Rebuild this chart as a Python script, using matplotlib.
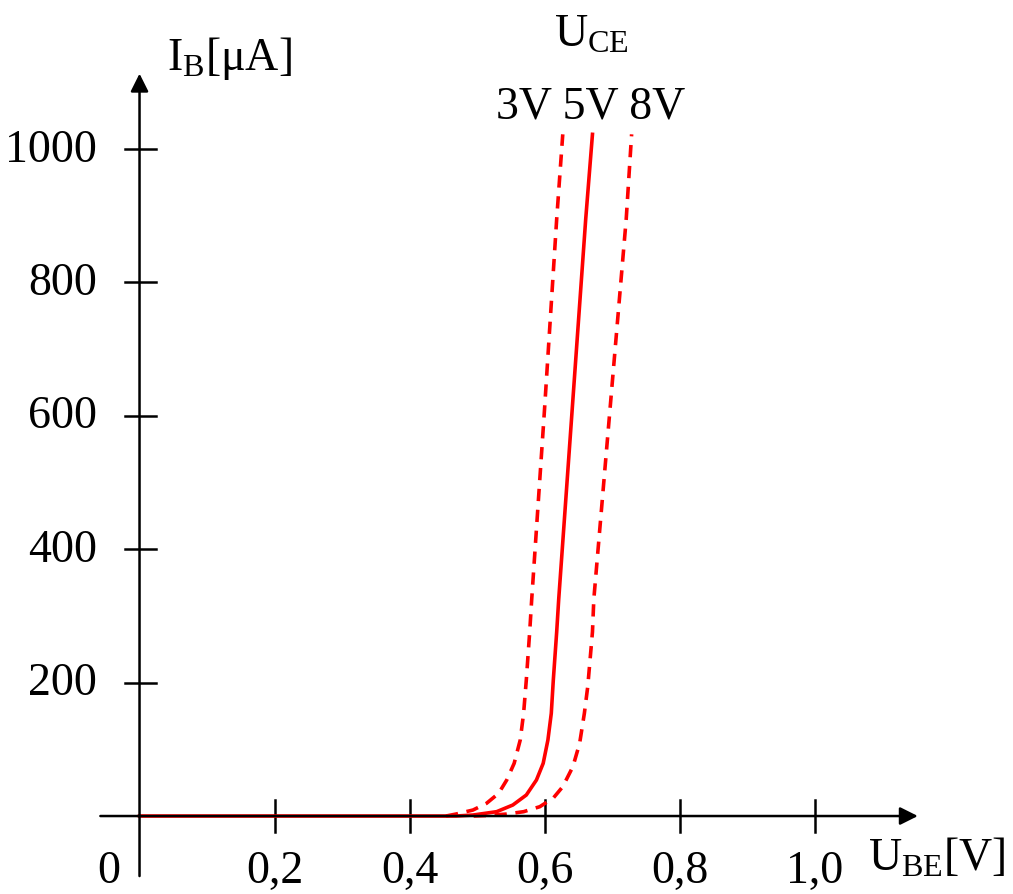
import matplotlib
matplotlib.use("Agg")
import matplotlib.pyplot as plt

plt.rcParams['font.family'] = ['Liberation Serif', 'DejaVu Serif']
plt.rcParams['mathtext.fontset'] = 'custom'
plt.rcParams['mathtext.rm'] = 'Liberation Serif'
plt.rcParams['mathtext.it'] = 'Liberation Serif:italic'

# input characteristic I_B(U_BE) for three U_CE values
ube_3v = [0.454, 0.469, 0.494, 0.514, 0.532, 0.544, 0.555, 0.564, 0.569, 0.573,
          0.578, 0.581, 0.600, 0.618, 0.627]
ib_3v = [0, 3, 9, 19, 34, 54, 79, 114, 154, 204, 276, 325, 610, 895, 1022]

ube_5v = [0.0, 0.469, 0.494, 0.529, 0.553, 0.573, 0.588, 0.598, 0.605, 0.610,
          0.613, 0.618, 0.621, 0.641, 0.661, 0.671]
ib_5v = [0, 0, 1.5, 6.5, 16.5, 31.5, 54, 79, 114, 154, 204, 276, 325, 610, 895, 1022]

ube_8v = [0.495, 0.519, 0.544, 0.569, 0.593, 0.613, 0.627, 0.642, 0.652, 0.659,
          0.664, 0.671, 0.673, 0.697, 0.721, 0.729]
ib_8v = [0, 1, 3, 6.5, 14, 27, 44, 74, 109, 154, 194, 276, 325, 610, 895, 1022]

x_ticks = [0.2, 0.4, 0.6, 0.8, 1.0]
x_tick_labels = ["0,2", "0,4", "0,6", "0,8", "1,0"]
y_ticks = [200, 400, 600, 800, 1000]
y_tick_labels = ["200", "400", "600", "800", "1000"]

fig = plt.figure(figsize=(10.13, 8.94), dpi=100)
ax = fig.add_axes([0, 0, 1, 1])
ax.set_xlim(-0.2067, 1.294)
ax.set_ylim(-116.9, 1223.4)
ax.axis("off")

red = "#ff0000"
fs = 33

# axes with arrows
ax.annotate("", xy=(1.153, 0), xytext=(-0.058, 0),
            arrowprops=dict(arrowstyle="-|>,head_length=0.6,head_width=0.3",
                            lw=1.8, color="black", mutation_scale=18,
                            shrinkA=0, shrinkB=0))
ax.annotate("", xy=(0, 1113), xytext=(0, -90),
            arrowprops=dict(arrowstyle="-|>,head_length=0.6,head_width=0.3",
                            lw=1.8, color="black", mutation_scale=18,
                            shrinkA=0, shrinkB=0))

# ticks crossing the axes
for xt in x_ticks:
    ax.plot([xt, xt], [-24, 24], color="black", lw=1.8)
for yt in y_ticks:
    ax.plot([-0.021, 0.024], [yt, yt], color="black", lw=1.8)

# tick labels
for xt, lab in zip(x_ticks, x_tick_labels):
    ax.text(xt, -101, lab, ha="center", va="baseline", fontsize=fs)
ax.text(-0.045, -100, "0", ha="center", va="baseline", fontsize=fs)
for yt, lab in zip(y_ticks, y_tick_labels):
    ax.text(-0.063, yt - 19, lab, ha="right", va="baseline", fontsize=fs)

# curves
ax.plot(ube_3v, ib_3v, color=red, lw=2.6, dashes=(3.4, 2.4), solid_capstyle="butt")
ax.plot(ube_5v, ib_5v, color=red, lw=2.6)
ax.plot(ube_8v, ib_8v, color=red, lw=2.6, dashes=(3.4, 2.4), solid_capstyle="butt")

# axis titles and curve labels
ax.text(0.0407, 1118, r"I$_\mathrm{B}$[μA]", ha="left", va="baseline", fontsize=fs)
ax.text(1.0793, -82, r"U$_\mathrm{BE}$[V]", ha="left", va="baseline", fontsize=fs)
ax.text(0.669, 1153, r"U$_\mathrm{CE}$", ha="center", va="baseline", fontsize=fs)
ax.text(0.669, 1046, "3V 5V 8V", ha="center", va="baseline", fontsize=fs)

fig.savefig("out.png", dpi=100, facecolor="white")
